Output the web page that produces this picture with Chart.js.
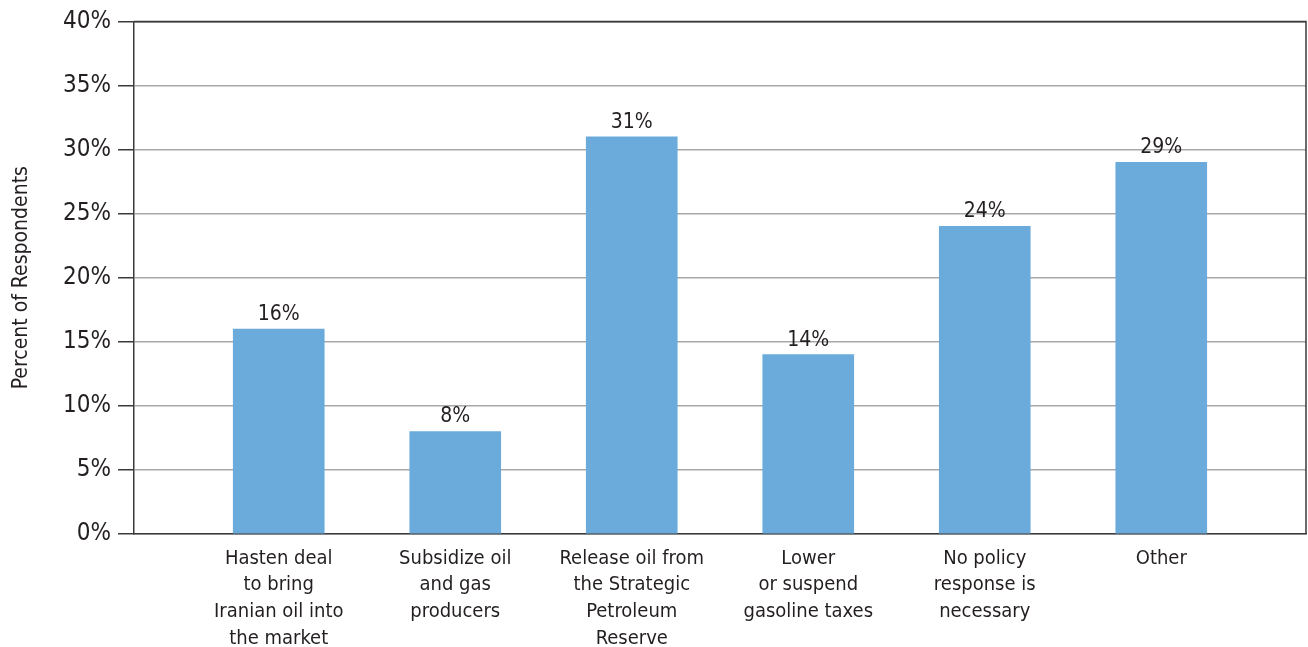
<!DOCTYPE html>
<html>
<head>
<meta charset="utf-8">
<script src="https://cdn.jsdelivr.net/npm/chart.js@4.4.1/dist/chart.umd.min.js"></script>
<style>
  html, body { margin: 0; padding: 0; background: #ffffff; }
  #wrap { width: 1308px; height: 647px; position: relative; }
</style>
</head>
<body>
<div id="wrap"><canvas id="chart" width="1308" height="647"></canvas></div>
<script>
// Survey responses: preferred policy response, percent of respondents
const categories = [
  ['Hasten deal', 'to bring', 'Iranian oil into', 'the market'],
  ['Subsidize oil', 'and gas', 'producers'],
  ['Release oil from', 'the Strategic', 'Petroleum', 'Reserve'],
  ['Lower', 'or suspend', 'gasoline taxes'],
  ['No policy', 'response is', 'necessary'],
  ['Other']
];
const percentValues = [16, 8, 31, 14, 24, 29];
const yTickValues = [0, 5, 10, 15, 20, 25, 30, 35, 40];
const yAxisTitle = 'Percent of Respondents';

const FONT = "'Liberation Sans Narrow', 'Arial Narrow', 'DejaVu Sans Condensed', sans-serif";
const TEXT = '#231f20';
const AXIS = '#3a3a3a';
const GRID = '#a8a8a8';
const BAR = '#6aabdb';

const points = percentValues.map((v, i) => ({ x: i + 1, y: v }));

// Value labels above each bar
const valueLabels = {
  id: 'valueLabels',
  afterDatasetsDraw(chart) {
    const ctx = chart.ctx;
    const meta = chart.getDatasetMeta(0);
    ctx.save();
    ctx.font = '21px ' + FONT;
    ctx.fillStyle = TEXT;
    ctx.textAlign = 'center';
    ctx.textBaseline = 'alphabetic';
    meta.data.forEach((bar, i) => {
      ctx.fillText(percentValues[i] + '%', bar.x, bar.y - 9);
    });
    ctx.restore();
  }
};

// Frame lines along the top and right of the plot area
const frame = {
  id: 'frame',
  afterDraw(chart) {
    const { ctx, chartArea: a } = chart;
    ctx.save();
    ctx.strokeStyle = AXIS;
    ctx.lineWidth = 1.5;
    ctx.beginPath();
    ctx.moveTo(a.left, a.top);
    ctx.lineTo(a.right, a.top);
    ctx.lineTo(a.right, a.bottom);
    ctx.stroke();
    ctx.restore();
  }
};

new Chart(document.getElementById('chart'), {
  type: 'bar',
  data: {
    datasets: [{
      data: points,
      backgroundColor: BAR,
      borderWidth: 0,
      barThickness: 91
    }]
  },
  options: {
    responsive: false,
    animation: false,
    events: [],
    layout: { padding: { top: 20, right: 2, left: 0, bottom: 0 } },
    plugins: { legend: { display: false }, tooltip: { enabled: false } },
    scales: {
      x: {
        type: 'linear',
        min: 0.18,
        max: 6.82,
        offset: false,
        z: 1,
        afterBuildTicks(axis) {
          axis.ticks = categories.map((_, i) => ({ value: i + 1 }));
        },
        afterFit(axis) { axis.height = 113; },
        grid: { display: false, drawTicks: false },
        border: { display: true, color: AXIS, width: 1.5 },
        ticks: {
          autoSkip: false,
          maxRotation: 0,
          padding: 11,
          color: TEXT,
          font: { family: FONT, size: 20, lineHeight: 1.335 },
          callback: (v) => categories[Math.round(v) - 1] || ''
        }
      },
      y: {
        min: 0,
        max: 40,
        afterBuildTicks(axis) {
          axis.ticks = yTickValues.map(v => ({ value: v }));
        },
        afterFit(axis) { axis.width = 134; },
        grid: {
          color: (c) => (c.tick && c.tick.value === 40 ? AXIS : GRID),
          lineWidth: 1.5,
          drawTicks: true,
          tickLength: 16,
          tickColor: AXIS,
          tickWidth: 1.5
        },
        border: { display: true, color: AXIS, width: 1.5 },
        ticks: {
          padding: 7,
          color: TEXT,
          font: { family: FONT, size: 24 },
          callback: (v) => v + '%'
        },
        title: {
          display: true,
          text: yAxisTitle,
          color: TEXT,
          font: { family: FONT, size: 21 },
          padding: { top: 9, bottom: 0 }
        }
      }
    }
  },
  plugins: [valueLabels, frame]
});
</script>
</body>
</html>
